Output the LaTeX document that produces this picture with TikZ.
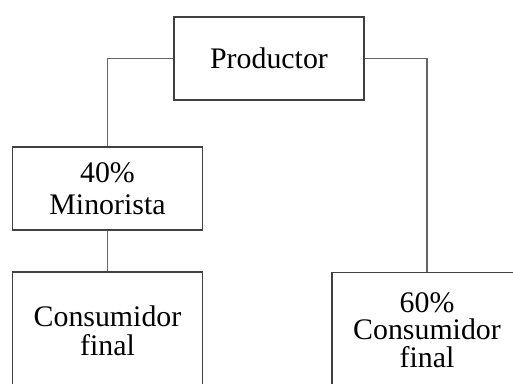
\documentclass[tikz,border=0pt]{standalone}
\usepackage{fontspec}
\setmainfont{Liberation Serif}
\usetikzlibrary{positioning}

\tikzset{
  box/.style={draw=black!75, line width=0.6pt, align=center,
    minimum width=3.8cm, minimum height=1.66cm, inner sep=2pt,
    font=\fontsize{17}{16}\selectfont},
  link/.style={draw=black!60, line width=0.6pt},
}

\begin{document}
\begin{tikzpicture}[x=0.02cm, y=-0.02cm]
    \useasboundingbox (0,0) rectangle (513,383);
    \clip (0,0) rectangle (513,383);

    % boxes
    \node[box] (prod) at (269,58.5) {Productor};
    \node[box] (mino) at (107.5,188.5) {40\%\\[2pt]Minorista};
    \node[box, minimum height=2.36cm] (cf1) at (107.5,331) {Consumidor\\[0.5pt]final};
    \node[box, minimum height=2.3cm] (cf2) at (427,330) {60\%\\[-0.5pt]Consumidor\\[-0.5pt]final};

    % connectors
    \draw[link] (prod.west) -| (mino.north);
    \draw[link] (prod.east) -| (cf2.north);
    \draw[link] (mino.south) -- (cf1.north);
\end{tikzpicture}
\end{document}
